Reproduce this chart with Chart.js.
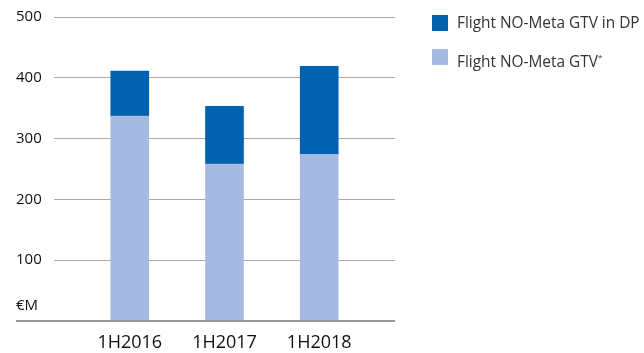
<!DOCTYPE html>
<html>
<head>
<meta charset="utf-8">
<script src="https://cdn.jsdelivr.net/npm/chart.js@4/dist/chart.umd.min.js"></script>
<style>
  html, body { margin: 0; padding: 0; background: #fff; }
  #wrap { position: relative; width: 644px; height: 353px; overflow: hidden; }
  #legend { position: absolute; left: 432px; top: 15px; font-family: "Open Sans", sans-serif; font-size: 15.4px; color: #333; white-space: nowrap; }
  .item { position: relative; height: 16px; margin-bottom: 18px; }
  .sw { position: absolute; left: 0; top: 0; width: 16px; height: 16px; }
  .lbl { position: absolute; left: 25px; top: -3px; line-height: 22px; }
  sup { font-size: 8px; vertical-align: 7px; }
</style>
</head>
<body>
<div id="wrap">
  <canvas id="c" width="644" height="353"></canvas>
  <div id="legend"></div>
</div>
<script>
// Half-year periods and GTV figures in € millions
const categories = ['1H2016', '1H2017', '1H2018'];
const gtvNoMeta = [337, 258, 274];     // Flight NO-Meta GTV*
const gtvInDP = [74, 95, 145];         // Flight NO-Meta GTV in DP (stacked on top)
const yTicks = [100, 200, 300, 400, 500];
const unitLabel = '€M';
const unitTickValue = 25;

const DARK = '#0062AF';
const LIGHT = '#A6BAE1';

// Legend (top entry is the stacked upper series)
const legendItems = [
  { color: DARK, html: 'Flight NO-Meta GTV in DP' },
  { color: LIGHT, html: 'Flight NO-Meta GTV<sup>*</sup>' }
];
const legendEl = document.getElementById('legend');
legendItems.forEach(it => {
  const d = document.createElement('div');
  d.className = 'item';
  d.innerHTML = '<span class="sw" style="background:' + it.color + '"></span><span class="lbl">' + it.html + '</span>';
  legendEl.appendChild(d);
});

// Thick baseline at zero running under the axis labels
const baseline = {
  id: 'baseline',
  afterDatasetsDraw(chart) {
    const { ctx, chartArea } = chart;
    const y = chart.scales.y.getPixelForValue(0);
    ctx.save();
    ctx.strokeStyle = '#999';
    ctx.lineWidth = 2;
    ctx.beginPath();
    ctx.moveTo(16, y);
    ctx.lineTo(chartArea.right, y);
    ctx.stroke();
    ctx.restore();
  }
};

new Chart(document.getElementById('c'), {
  type: 'bar',
  data: {
    datasets: [
      {
        label: 'Flight NO-Meta GTV*',
        data: gtvNoMeta.map((v, i) => ({ x: i, y: v })),
        backgroundColor: LIGHT,
        barThickness: 38
      },
      {
        label: 'Flight NO-Meta GTV in DP',
        data: gtvInDP.map((v, i) => ({ x: i, y: v })),
        backgroundColor: DARK,
        barThickness: 38
      }
    ]
  },
  options: {
    responsive: false,
    animation: false,
    layout: { padding: { left: 16, right: 249, top: 17, bottom: 0 } },
    plugins: { legend: { display: false }, tooltip: { enabled: false } },
    scales: {
      x: {
        type: 'linear',
        stacked: true,
        offset: false,
        min: -0.8,
        max: categories.length - 0.2,
        afterBuildTicks(scale) { scale.ticks = categories.map((_, i) => ({ value: i })); },
        afterFit(scale) { scale.height = 32; scale.paddingLeft = 0; scale.paddingRight = 0; },
        grid: { display: false },
        border: { display: false },
        ticks: {
          callback: v => categories[v],
          font: { family: 'Open Sans', size: 18 },
          color: '#111',
          padding: 3,
          maxRotation: 0,
          autoSkip: false
        }
      },
      y: {
        stacked: true,
        min: 0,
        max: 500,
        afterBuildTicks(scale) {
          scale.ticks = [{ value: unitTickValue }].concat(yTicks.map(v => ({ value: v })));
        },
        afterFit(scale) { scale.width = 38; scale.paddingTop = 0; scale.paddingBottom = 0; },
        grid: {
          color: c => (c.tick && c.tick.value === unitTickValue ? 'rgba(0,0,0,0)' : '#aaa'),
          lineWidth: 1,
          drawTicks: false
        },
        border: { display: false },
        ticks: {
          callback: v => (v === unitTickValue ? unitLabel : String(v)),
          font: { family: 'Open Sans', size: 15 },
          color: '#111',
          padding: 13,
          crossAlign: 'far',
          autoSkip: false
        }
      }
    }
  },
  plugins: [baseline]
});
</script>
</body>
</html>
